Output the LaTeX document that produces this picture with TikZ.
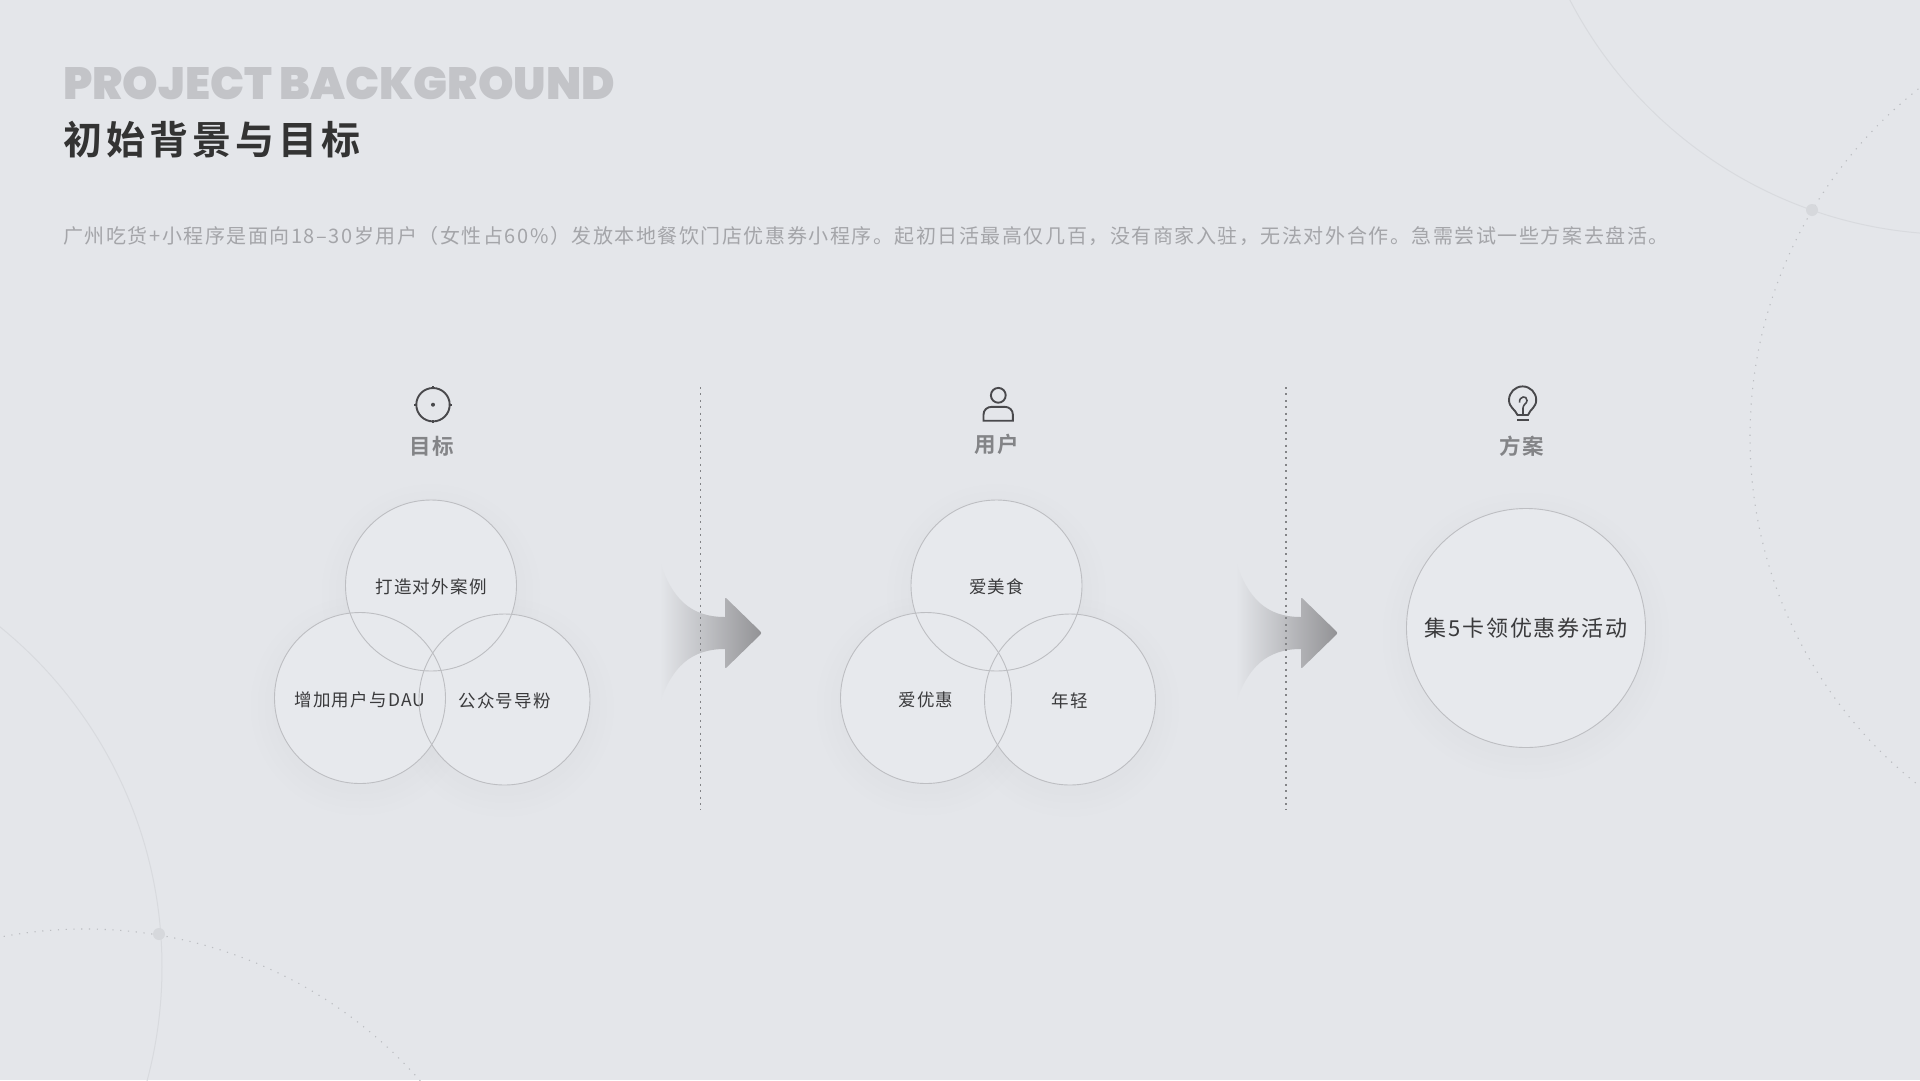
\documentclass[tikz,border=0pt]{standalone}
\usepackage{fontspec}
\setmainfont{Noto Sans CJK SC}
\newfontfamily\headfont[UprightFont=* Black]{Poppins}
\newfontfamily\cjktitle[LetterSpace=10.3]{Noto Sans CJK SC Bold}
\newfontfamily\cjklabel[LetterSpace=6]{Noto Sans CJK SC Bold}
\newfontfamily\cjkpara[LetterSpace=7.7]{Noto Sans CJK SC}
\newfontfamily\cjkreg[LetterSpace=7]{Noto Sans CJK SC}
\newfontfamily\cjkwide[LetterSpace=8]{Noto Sans CJK SC}
\definecolor{bgc}{HTML}{E4E6EA}
\definecolor{headgray}{HTML}{C3C4C8}
\definecolor{titlec}{HTML}{333333}
\definecolor{paragray}{HTML}{A4A5A9}
\definecolor{labelgray}{HTML}{838487}
\definecolor{textc}{HTML}{3A3A3C}
\definecolor{ringc}{HTML}{BDBEC2}
\definecolor{discc}{HTML}{E7E9ED}
\definecolor{iconc}{HTML}{49494C}
\definecolor{decoc}{HTML}{D8DADE}
\definecolor{dotc}{HTML}{BCBEC2}
\definecolor{knobc}{HTML}{D6D8DC}
\definecolor{arrowc}{HTML}{929295}
\tikzset{
  ring/.style={circle,draw=ringc,line width=0.9pt,minimum size=#1,inner sep=0pt,outer sep=0pt,
    text=textc,text height=18pt,text depth=2pt,font=\cjkreg\fontsize{17.5}{20}\selectfont},
  seclabel/.style={text=labelgray,inner sep=0pt,font=\cjklabel\fontsize{21.5}{24}\selectfont},
  icon/.style={draw=iconc,line width=1.9pt},
  soft/.style={black,fill opacity=.004},
  deco/.style={draw=decoc,line width=1pt},
  decodot/.style={draw=dotc,line width=1.1pt,dash pattern=on 1.2pt off 6.6pt},
  knob/.style={circle,fill=knobc,minimum size=12pt,inner sep=0pt},
  divider/.style={draw=labelgray,line width=1.1pt,dash pattern=on 2pt off 4.4pt},
}
\newcommand{\softshadow}[3]{%
  \foreach \d in {3,10,17,24}{\fill[soft] (#1,#2+8) circle[radius=#3+\d];}}
\newcommand{\flowarrow}[1]{%
  \begin{scope}[xshift=#1]
    \path[left color=bgc,right color=arrowc,rounded corners=0pt]
      (660,562) .. controls (672,598) and (690,617) .. (725,617)
      -- (725,600) [rounded corners=2pt] -- (725,597) -- (762,633) -- (725,669) [rounded corners=0pt] -- (725,649)
      .. controls (690,649) and (672,668) .. (660,702) -- cycle;
  \end{scope}}
\begin{document}
\begin{tikzpicture}[x=1pt,y=-1pt]
\useasboundingbox (0,0) rectangle (1920,1080);
\fill[bgc] (0,0) rectangle (1920,1080);
\begin{scope}
  \clip (0,0) rectangle (1920,1080);
  \draw[deco] (1955.7,-200) circle[radius=434.5];
  \draw[decodot] (2194,437) circle[radius=444];
  \draw[deco] (-276,967) circle[radius=438];
  \draw[decodot] (85,1375) circle[radius=446];
\end{scope}
\node[knob] (knobA) at (1812,210) {};
\node[knob] (knobB) at (159,934) {};

\node[anchor=west,inner sep=0pt,text=headgray] (head) at (63,83)
  {\headfont\fontsize{45.2}{50}\selectfont PROJECT BACKGROUND};
\node[anchor=west,inner sep=0pt,text=titlec] (title) at (63,140)
  {\cjktitle\fontsize{39}{44}\selectfont 初始背景与目标};
\node[anchor=west,inner sep=0pt,text=paragray] (para) at (63,236)
  {\cjkpara\fontsize{20}{24}\selectfont 广州吃货+小程序是面向18–30岁用户（女性占60\%）发放本地餐饮门店优惠券小程序。起初日活最高仅几百，没有商家入驻，无法对外合作。急需尝试一些方案去盘活。};

% icons
\coordinate (tg) at (433,404.7);
\draw[icon] (tg) circle[radius=16.7];
\fill[iconc] (tg) circle[radius=2];
\draw[icon] (433,386) -- (433,389) (433,420.4) -- (433,423.4) (414.3,404.7) -- (417.3,404.7) (448.7,404.7) -- (451.7,404.7);
\draw[icon] (998.3,395.3) circle[radius=7.4];
\draw[icon] (983.5,420.7) -- (983.5,414.8) .. controls (983.5,410) and (987,406.8) .. (992,406.8) -- (1004.4,406.8) .. controls (1009.4,406.8) and (1012.9,410) .. (1012.9,414.8) -- (1012.9,420.7) -- cycle;
\draw[icon,line join=round] (1517.5,415) .. controls (1515,409) and (1509,407.5) .. (1509,400)
  arc[start angle=180,end angle=360,radius=13.6]
  .. controls (1536.2,407.5) and (1530.2,409) .. (1528,415) -- cycle;
\draw[icon,line width=1.6pt] (1519.5,402.5) .. controls (1519,396) and (1527,395) .. (1527,400.5) .. controls (1527,403.5) and (1523,404.5) .. (1523,408) -- (1523,414.5);
\draw[icon] (1517.3,420) -- (1529,420);

\node[seclabel] (l1) at (432,446) {目标};
\node[seclabel] (l2) at (997,444) {用户};
\node[seclabel] (l3) at (1522,446) {方案};

% shadows, then the pale discs, then the rings
\softshadow{431}{585.5}{85.5}\softshadow{360}{698}{85.5}\softshadow{504.5}{699.5}{85.5}
\softshadow{996.5}{585.5}{85.5}\softshadow{926}{698}{85.5}\softshadow{1070}{699.5}{85.5}
\softshadow{1526}{628}{119.5}
\foreach \cx/\cy in {431/585.5,360/698,504.5/699.5,996.5/585.5,926/698,1070/699.5}
  {\fill[discc] (\cx,\cy) circle[radius=85.5];}
\fill[discc] (1526,628) circle[radius=119.5];

\node[ring=171pt] (a1) at (431,585.5) {打造对外案例};
\node[ring=171pt] (a2) at (360,698) {增加用户与DAU};
\node[ring=171pt] (a3) at (504.5,699.5) {公众号导粉};
\node[ring=171pt] (b1) at (996.5,585.5) {爱美食};
\node[ring=171pt] (b2) at (926,698) {爱优惠};
\node[ring=171pt] (b3) at (1070,699.5) {年轻};
\node[ring=239pt,font=\cjkwide\fontsize{22}{26}\selectfont,text height=19.4pt,text depth=3pt] (c1) at (1526,628) {集5卡领优惠券活动};

\flowarrow{0pt}
\flowarrow{576pt}

\coordinate (d1a) at (700.5,387); \coordinate (d1b) at (700.5,810);
\coordinate (d2a) at (1286,387); \coordinate (d2b) at (1286,810);
\draw[divider] (d1a) -- (d1b);
\draw[divider] (d2a) -- (d2b);
\end{tikzpicture}
\end{document}
